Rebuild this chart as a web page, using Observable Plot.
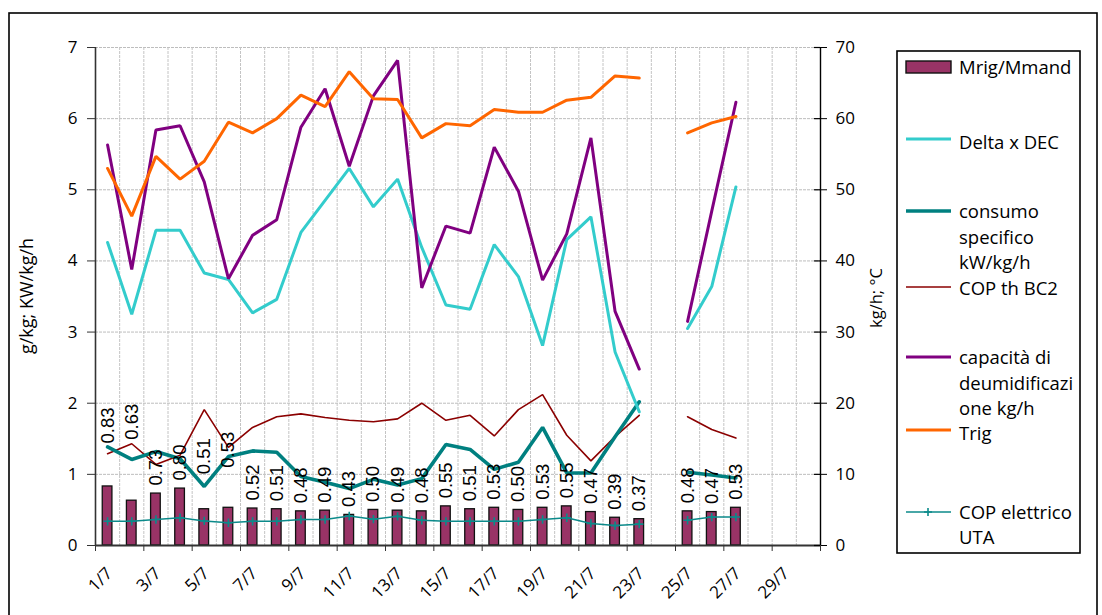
<!DOCTYPE html>
<html>
<head>
<meta charset="utf-8">
<script src="https://cdn.jsdelivr.net/npm/d3@7"></script>
<script src="https://cdn.jsdelivr.net/npm/@observablehq/plot@0.6"></script>
<style>
  body { margin: 0; background: #fff; }
  #wrap { position: relative; width: 1102px; height: 615px; overflow: hidden; }
  #wrap > svg { position: absolute; left: 0; top: 0; }
</style>
</head>
<body>
<div id="wrap"></div>
<script>
// ---- data ----
const days = [1,2,3,4,5,6,7,8,9,10,11,12,13,14,15,16,17,18,19,20,21,22,23,24,25,26,27,28,29,30];
const xTickDays = [1,3,5,7,9,11,13,15,17,19,21,23,25,27,29];
const xTickLabels = ["1/7","3/7","5/7","7/7","9/7","11/7","13/7","15/7","17/7","19/7","21/7","23/7","25/7","27/7","29/7"];
const yLeftTicks = [0,1,2,3,4,5,6,7];
const yRightTicks = [0,10,20,30,40,50,60,70];

// Mrig/Mmand (left axis)
const mrigMmand = [0.83,0.63,0.73,0.80,0.51,0.53,0.52,0.51,0.48,0.49,0.43,0.50,0.49,0.48,0.55,0.51,0.53,0.50,0.53,0.55,0.47,0.39,0.37,null,0.48,0.47,0.53];
// Delta x DEC (g/kg, left axis)
const deltaXDec = [4.26,3.25,4.43,4.43,3.83,3.74,3.27,3.46,4.40,4.85,5.30,4.76,5.15,4.19,3.38,3.32,4.23,3.78,2.81,4.30,4.62,2.72,1.88,null,3.05,3.64,5.04];
// consumo specifico kW/kg/h (left axis)
const consumoSpec = [1.385,1.21,1.32,1.22,0.83,1.25,1.33,1.31,0.97,0.89,0.80,0.93,0.85,0.94,1.42,1.35,1.07,1.17,1.66,1.02,1.02,1.53,2.02,null,1.03,0.99,0.95];
// COP th BC2 (left axis)
const copThBC2 = [1.29,1.43,1.14,1.27,1.91,1.38,1.66,1.81,1.85,1.80,1.76,1.74,1.78,2.00,1.76,1.83,1.54,1.91,2.12,1.55,1.19,1.53,1.83,null,1.81,1.63,1.51];
// capacità di deumidificazione kg/h (left axis)
const capacita = [5.63,3.88,5.84,5.90,5.11,3.75,4.36,4.58,5.88,6.42,5.33,6.32,6.82,3.62,4.49,4.39,5.60,4.98,3.73,4.38,5.73,3.29,2.48,null,3.15,4.70,6.23];
// Trig (°C, right axis)
const trig = [53.0,46.3,54.7,51.5,54.0,59.5,58.0,60.0,63.3,61.7,66.6,62.8,62.7,57.3,59.3,59.0,61.3,60.9,60.9,62.6,63.0,66.0,65.7,null,58.0,59.4,60.3];
// COP elettrico UTA (left axis)
const copElUTA = [0.34,0.34,0.365,0.39,0.345,0.32,0.34,0.34,0.365,0.365,0.415,0.37,0.41,0.355,0.34,0.34,0.34,0.34,0.365,0.39,0.31,0.28,0.30,null,0.355,0.40,0.40];

// ---- table built from the arrays ----
const rows = days.map((day, i) => ({
  day,
  ratio: mrigMmand[i] ?? null,
  delta: deltaXDec[i] ?? null,
  consumo: consumoSpec[i] ?? null,
  copTh: copThBC2[i] ?? null,
  cap: capacita[i] ?? null,
  trig: trig[i] ?? null,
  copEl: copElUTA[i] ?? null
}));
const barRows = rows.filter(d => d.ratio != null);
const boundaries = d3.range(days.length + 1).map(k => days[0] - 0.5 + k);
const innerBounds = boundaries.slice(1, -1);
const tickBounds = boundaries.filter((b, k) => k % 2 === 0);

// extra lift of a few bar labels (Excel moved them to avoid overlaps)
const labelLift = {1: 43, 2: 61, 5: 35, 6: 40};
const liftGroups = d3.groups(barRows, d => labelLift[d.day] ?? 8);

const F = "'Open Sans', 'DejaVu Sans', sans-serif";
const xmax = boundaries[boundaries.length - 1];

const chart = Plot.plot({
  width: 1102,
  height: 615,
  marginLeft: 95,
  marginRight: 282,
  marginTop: 47,
  marginBottom: 70,
  style: { fontFamily: F, fontSize: "17px", color: "#000", background: "transparent", overflow: "visible" },
  x: { type: "linear", domain: [boundaries[0], xmax], axis: null, label: null },
  y: { domain: [yLeftTicks[0], yLeftTicks[yLeftTicks.length - 1]], axis: null, label: null },
  marks: [
    Plot.ruleY(yLeftTicks.slice(1), { stroke: "#bdbdbd", strokeWidth: 1, strokeDasharray: "3,1" }),
    Plot.ruleX(innerBounds, { stroke: "#c4c4c4", strokeWidth: 1, strokeDasharray: "3,1" }),
    Plot.rectY(barRows, { x1: d => d.day - 0.2, x2: d => d.day + 0.2, y1: () => 0, y2: "ratio", fill: "#993366", stroke: "#111", strokeWidth: 1.3 }),
    Plot.line(rows, { x: "day", y: "copEl", stroke: "#0b8a8a", strokeWidth: 1.5 }),
    Plot.dot(rows.filter(d => d.copEl != null), { x: "day", y: "copEl", symbol: "plus", r: 2.8, stroke: "#0b8a8a", strokeWidth: 1.6 }),
    Plot.line(rows, { x: "day", y: "copTh", stroke: "#8b0000", strokeWidth: 1.6, strokeLinejoin: "miter" }),
    Plot.line(rows, { x: "day", y: "consumo", stroke: "#008080", strokeWidth: 3.6, strokeLinejoin: "miter" }),
    Plot.line(rows, { x: "day", y: "delta", stroke: "#33cccc", strokeWidth: 3, strokeLinejoin: "miter" }),
    Plot.line(rows, { x: "day", y: "cap", stroke: "#800080", strokeWidth: 3, strokeLinejoin: "miter" }),
    Plot.line(rows, { x: "day", y: d => d.trig == null ? null : d.trig / 10, stroke: "#ff6600", strokeWidth: 3, strokeLinejoin: "miter" }),
    // axis lines
    Plot.ruleX([boundaries[0]], { stroke: "#333", strokeWidth: 1.6 }),
    Plot.ruleX([xmax], { stroke: "#000", strokeWidth: 1.4 }),
    Plot.ruleY([0], { stroke: "#333", strokeWidth: 1.8 }),
    // left axis
    Plot.axisY({ anchor: "left", ticks: yLeftTicks, tickSize: 8, tickPadding: 10, tickFormat: d => String(d), fontSize: 17, stroke: "#333", label: null }),
    // right axis (outer ticks + labels), inner half of the cross ticks
    Plot.axisY({ anchor: "right", ticks: yLeftTicks, tickSize: 6, tickPadding: 9, tickFormat: d => String(yRightTicks[yLeftTicks.indexOf(d)]), fontSize: 17, label: null }),
    Plot.ruleY(yLeftTicks, { x1: () => xmax - 0.25, x2: () => xmax, stroke: "#000", strokeWidth: 1.2 }),
    // bottom ticks at every second slot boundary
    Plot.axisX({ anchor: "bottom", ticks: tickBounds, tickSize: 6, tickFormat: () => "", stroke: "#333", label: null }),
    // rotated category labels
    Plot.text(xTickDays, { x: d => d, y: () => 0, text: (d, i) => xTickLabels[i], rotate: -45, textAnchor: "end", lineAnchor: "middle", dx: 2, dy: 25, fontSize: 17 }),
    // bar value labels
    ...liftGroups.map(([lift, data]) =>
      Plot.text(data, { x: "day", y: "ratio", text: d => d.ratio.toFixed(2), rotate: -90, textAnchor: "start", lineAnchor: "middle", dy: -lift, fontSize: 18.5, fontFamily: "'Liberation Sans', Arial, sans-serif", fill: "#000" })
    )
  ]
});
document.getElementById("wrap").appendChild(chart);

// ---- overlay: outer border, axis titles, legend ----
const ov = d3.select("#wrap").append("svg")
  .attr("width", 1102).attr("height", 615)
  .style("font-family", F);
ov.append("rect").attr("x", 9).attr("y", 13).attr("width", 1088).attr("height", 640)
  .attr("fill", "none").attr("stroke", "#000").attr("stroke-width", 1.6);
ov.append("text").attr("transform", "translate(33,296) rotate(-90)")
  .attr("text-anchor", "middle").attr("font-size", 18).text("g/kg; KW/kg/h");
ov.append("text").attr("transform", "translate(882,298) rotate(-90)")
  .attr("text-anchor", "middle").attr("font-size", 16.5).text("kg/h; °C");

ov.append("rect").attr("x", 897).attr("y", 51).attr("width", 183).attr("height", 502)
  .attr("fill", "#fff").attr("stroke", "#000").attr("stroke-width", 1.6);

const legendItems = [
  { kind: "bar", color: "#993366", sy: 67, lines: ["Mrig/Mmand"], base: 74 },
  { kind: "line", color: "#33cccc", w: 3, sy: 139, lines: ["Delta x DEC"], base: 149 },
  { kind: "line", color: "#008080", w: 3.6, sy: 211, lines: ["consumo", "specifico", "kW/kg/h"], base: 218 },
  { kind: "line", color: "#8b0000", w: 1.6, sy: 287, lines: ["COP th BC2"], base: 295 },
  { kind: "line", color: "#800080", w: 3, sy: 357, lines: ["capacità di", "deumidificazi", "one kg/h"], base: 364 },
  { kind: "line", color: "#ff6600", w: 3, sy: 430, lines: ["Trig"], base: 440 },
  { kind: "plus", color: "#0b8a8a", w: 1.5, sy: 512, lines: ["COP elettrico", "UTA"], base: 518.5 }
];
legendItems.forEach(it => {
  if (it.kind === "bar") {
    ov.append("rect").attr("x", 906).attr("y", it.sy - 6).attr("width", 45).attr("height", 12)
      .attr("fill", it.color).attr("stroke", "#111").attr("stroke-width", 1.4);
  } else {
    ov.append("line").attr("x1", 906).attr("x2", 951).attr("y1", it.sy).attr("y2", it.sy)
      .attr("stroke", it.color).attr("stroke-width", it.w);
    if (it.kind === "plus") {
      ov.append("path").attr("d", `M924,${it.sy}h8M928,${it.sy - 4}v8`).attr("stroke", it.color).attr("stroke-width", 1.6);
    }
  }
  it.lines.forEach((t, j) => {
    ov.append("text").attr("x", 959).attr("y", it.base + j * 25.5).attr("font-size", 18.5).attr("fill", "#000").text(t);
  });
});
</script>
</body>
</html>
